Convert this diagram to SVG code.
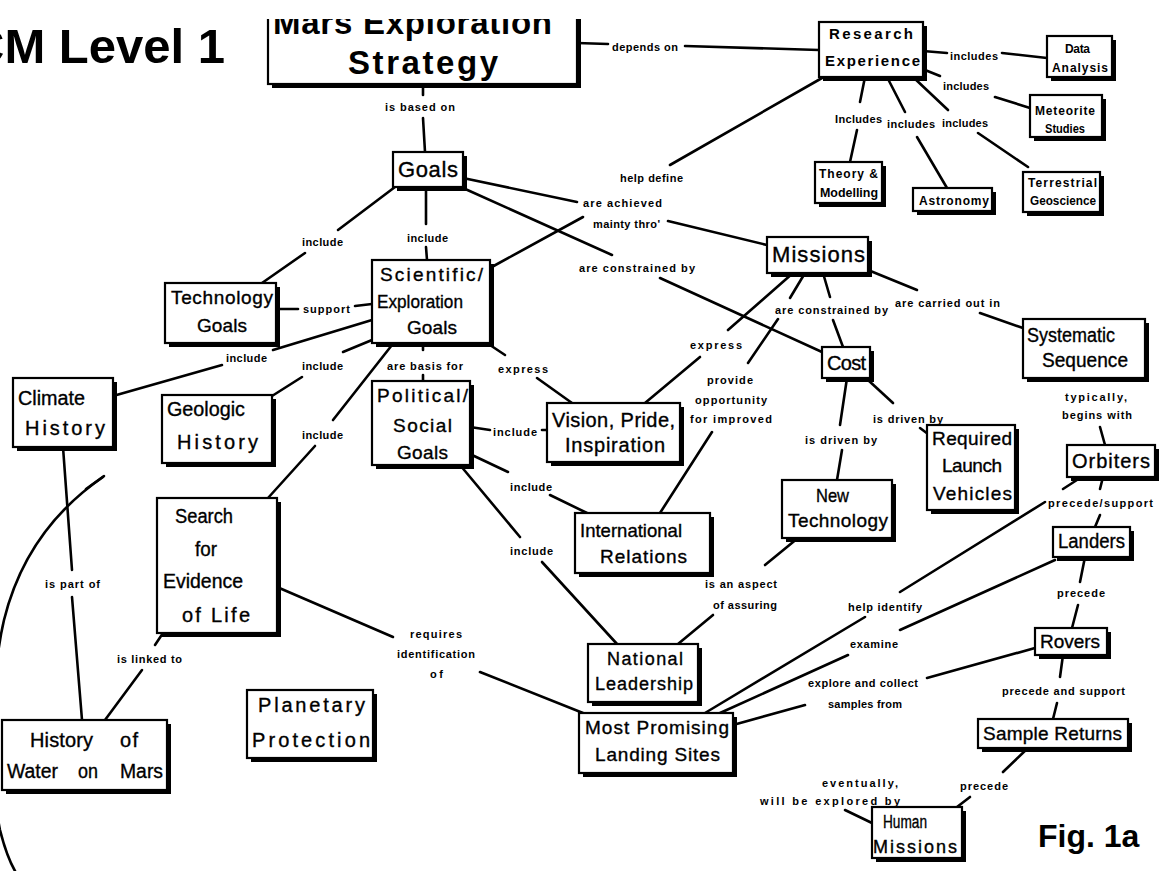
<svg xmlns="http://www.w3.org/2000/svg" width="1159" height="871" viewBox="0 0 1159 871">
<style>
.bx{fill:#fff;stroke:#000;stroke-width:2.2}
.sh{fill:#000}
.t{font-family:"Liberation Sans",Arial,sans-serif;fill:#000;stroke:#000;stroke-width:0.35}
.tb{font-family:"Liberation Sans",Arial,sans-serif;font-weight:bold;fill:#000}
.lb{font-family:"Liberation Sans",Arial,sans-serif;font-weight:bold;font-size:11px;fill:#000}
.c line,.c path{stroke:#000;stroke-width:2.6;fill:none;stroke-linecap:round}
</style>
<defs>
<clipPath id="cliptop"><rect x="0" y="19" width="1159" height="900"/></clipPath>
</defs>
<rect x="0" y="0" width="1159" height="871" fill="#fff"/>
<text class="tb" x="-31" y="63" font-size="49">CM Level 1</text>
<text class="tb" x="1038" y="847" font-size="32">Fig. 1a</text>

<g class="c" id="connectors">
<line x1="577" y1="43" x2="608" y2="44"/><line x1="685" y1="46" x2="819" y2="50"/>
<line x1="423" y1="84" x2="423" y2="95"/><line x1="423" y1="118" x2="425" y2="152"/>
<line x1="923" y1="51" x2="947" y2="53"/><line x1="1002" y1="53" x2="1047" y2="58"/>
<line x1="925" y1="70" x2="940" y2="76"/><line x1="995" y1="97" x2="1030" y2="108"/>
<line x1="865" y1="77" x2="860" y2="102"/><line x1="857" y1="130" x2="850" y2="162"/>
<line x1="887" y1="77" x2="905" y2="112"/><line x1="917" y1="137" x2="947" y2="188"/>
<line x1="913" y1="77" x2="948" y2="110"/><line x1="978" y1="133" x2="1028" y2="167"/>
<line x1="822" y1="78" x2="670" y2="165"/><line x1="583" y1="217" x2="490" y2="268"/>
<line x1="395" y1="187" x2="338" y2="230"/><line x1="305" y1="253" x2="262" y2="283"/>
<line x1="426" y1="187" x2="426" y2="224"/><line x1="426" y1="247" x2="427" y2="260"/>
<line x1="463" y1="178" x2="577" y2="202"/><line x1="668" y1="221" x2="767" y2="245"/>
<line x1="463" y1="188" x2="612" y2="255"/><line x1="660" y1="278" x2="822" y2="352"/>
<line x1="793" y1="273" x2="728" y2="330"/><line x1="700" y1="357" x2="645" y2="403"/>
<line x1="805" y1="273" x2="790" y2="298"/><line x1="778" y1="319" x2="748" y2="363"/><line x1="712" y1="432" x2="660" y2="513"/>
<line x1="823" y1="273" x2="830" y2="297"/><line x1="833" y1="320" x2="843" y2="347"/>
<line x1="868" y1="270" x2="917" y2="290"/><line x1="980" y1="313" x2="1023" y2="328"/>
<line x1="1100" y1="427" x2="1105" y2="445"/>
<line x1="1103" y1="477" x2="1100" y2="489"/><line x1="1100" y1="515" x2="1095" y2="527"/>
<line x1="1080" y1="478" x2="1063" y2="489"/><line x1="1045" y1="502" x2="900" y2="592"/><line x1="865" y1="617" x2="705" y2="713"/>
<line x1="1055" y1="560" x2="900" y2="630"/><line x1="848" y1="655" x2="720" y2="713"/>
<line x1="1085" y1="557" x2="1080" y2="582"/><line x1="1078" y1="605" x2="1072" y2="628"/>
<line x1="1035" y1="648" x2="927" y2="678"/><line x1="805" y1="705" x2="733" y2="725"/>
<line x1="1063" y1="655" x2="1060" y2="677"/><line x1="1057" y1="703" x2="1053" y2="719"/>
<line x1="1028" y1="748" x2="1003" y2="772"/><line x1="970" y1="797" x2="957" y2="807"/>
<line x1="845" y1="810" x2="872" y2="823"/>
<line x1="847" y1="378" x2="840" y2="425"/><line x1="842" y1="450" x2="837" y2="480"/>
<line x1="868" y1="380" x2="893" y2="403"/><line x1="920" y1="428" x2="928" y2="434"/>
<line x1="798" y1="538" x2="765" y2="565"/><line x1="713" y1="615" x2="678" y2="644"/>
<line x1="460" y1="465" x2="520" y2="537"/><line x1="542" y1="562" x2="617" y2="644"/>
<line x1="470" y1="427" x2="490" y2="430"/><line x1="542" y1="430" x2="547" y2="430"/>
<line x1="472" y1="455" x2="508" y2="472"/><line x1="550" y1="495" x2="587" y2="513"/>
<line x1="423" y1="345" x2="423" y2="350"/><line x1="423" y1="375" x2="423" y2="381"/>
<line x1="490" y1="345" x2="505" y2="355"/><line x1="537" y1="378" x2="572" y2="403"/>
<line x1="276" y1="309" x2="298" y2="309"/><line x1="355" y1="306" x2="372" y2="304"/>
<line x1="372" y1="320" x2="273" y2="350"/><line x1="222" y1="365" x2="113" y2="396"/>
<line x1="372" y1="340" x2="343" y2="352"/><line x1="302" y1="377" x2="272" y2="396"/>
<line x1="392" y1="345" x2="333" y2="420"/><line x1="315" y1="446" x2="268" y2="498"/>
<line x1="63" y1="447" x2="72" y2="570"/><line x1="72" y1="597" x2="82" y2="720"/>
<line x1="163" y1="633" x2="155" y2="645"/><line x1="142" y1="670" x2="105" y2="720"/>
<line x1="277" y1="587" x2="393" y2="637"/><line x1="480" y1="672" x2="583" y2="713"/>
<path d="M103,477 C55,510 20,555 4,620 C-10,680 -10,780 0,830 C5,850 10,862 15,871" stroke-width="3"/>
<path d="M104,476 L86,489" stroke-width="5.5"/>
</g>

<g id="labels">
<text class="lb" x="612" y="51" textLength="66" lengthAdjust="spacing">depends on</text>
<text class="lb" x="385" y="111" textLength="70" lengthAdjust="spacing">is based on</text>
<text class="lb" x="950" y="60" textLength="48" lengthAdjust="spacing">includes</text>
<text class="lb" x="943" y="90" textLength="46" lengthAdjust="spacing">includes</text>
<text class="lb" x="835" y="123" textLength="47" lengthAdjust="spacing">Includes</text>
<text class="lb" x="887" y="128" textLength="48" lengthAdjust="spacing">includes</text>
<text class="lb" x="942" y="127" textLength="46" lengthAdjust="spacing">includes</text>
<text class="lb" x="620" y="182" textLength="63" lengthAdjust="spacing">help define</text>
<text class="lb" x="302" y="246" textLength="41" lengthAdjust="spacing">include</text>
<text class="lb" x="407" y="242" textLength="41" lengthAdjust="spacing">include</text>
<text class="lb" x="583" y="207" textLength="79" lengthAdjust="spacing">are achieved</text>
<text class="lb" x="593" y="228" textLength="67" lengthAdjust="spacing">mainty thro'</text>
<text class="lb" x="579" y="272" textLength="116" lengthAdjust="spacing">are constrained by</text>
<text class="lb" x="690" y="349" textLength="52" lengthAdjust="spacing">express</text>
<text class="lb" x="707" y="384" textLength="46" lengthAdjust="spacing">provide</text>
<text class="lb" x="695" y="404" textLength="72" lengthAdjust="spacing">opportunity</text>
<text class="lb" x="690" y="423" textLength="82" lengthAdjust="spacing">for improved</text>
<text class="lb" x="775" y="314" textLength="113" lengthAdjust="spacing">are constrained by</text>
<text class="lb" x="895" y="307" textLength="105" lengthAdjust="spacing">are carried out in</text>
<text class="lb" x="1065" y="401" textLength="62" lengthAdjust="spacing">typically,</text>
<text class="lb" x="1062" y="419" textLength="70" lengthAdjust="spacing">begins with</text>
<text class="lb" x="1048" y="507" textLength="105" lengthAdjust="spacing">precede/support</text>
<text class="lb" x="848" y="611" textLength="74" lengthAdjust="spacing">help identify</text>
<text class="lb" x="850" y="648" textLength="48" lengthAdjust="spacing">examine</text>
<text class="lb" x="1057" y="597" textLength="48" lengthAdjust="spacing">precede</text>
<text class="lb" x="808" y="687" textLength="110" lengthAdjust="spacing">explore and collect</text>
<text class="lb" x="828" y="708" textLength="74" lengthAdjust="spacing">samples from</text>
<text class="lb" x="1002" y="695" textLength="123" lengthAdjust="spacing">precede and support</text>
<text class="lb" x="960" y="790" textLength="48" lengthAdjust="spacing">precede</text>
<text class="lb" x="822" y="787" textLength="76" lengthAdjust="spacing">eventually,</text>
<text class="lb" x="760" y="805" textLength="140" lengthAdjust="spacing">will be explored by</text>
<text class="lb" x="805" y="444" textLength="72" lengthAdjust="spacing">is driven by</text>
<text class="lb" x="873" y="423" textLength="70" lengthAdjust="spacing">is driven by</text>
<text class="lb" x="705" y="588" textLength="72" lengthAdjust="spacing">is an aspect</text>
<text class="lb" x="713" y="609" textLength="64" lengthAdjust="spacing">of assuring</text>
<text class="lb" x="510" y="555" textLength="43" lengthAdjust="spacing">include</text>
<text class="lb" x="493" y="436" textLength="44" lengthAdjust="spacing">include</text>
<text class="lb" x="510" y="491" textLength="42" lengthAdjust="spacing">include</text>
<text class="lb" x="387" y="370" textLength="76" lengthAdjust="spacing">are basis for</text>
<text class="lb" x="498" y="373" textLength="50" lengthAdjust="spacing">express</text>
<text class="lb" x="303" y="313" textLength="47" lengthAdjust="spacing">support</text>
<text class="lb" x="226" y="362" textLength="41" lengthAdjust="spacing">include</text>
<text class="lb" x="302" y="370" textLength="41" lengthAdjust="spacing">include</text>
<text class="lb" x="302" y="439" textLength="41" lengthAdjust="spacing">include</text>
<text class="lb" x="45" y="588" textLength="55" lengthAdjust="spacing">is part of</text>
<text class="lb" x="117" y="663" textLength="65" lengthAdjust="spacing">is linked to</text>
<text class="lb" x="410" y="638" textLength="52" lengthAdjust="spacing">requires</text>
<text class="lb" x="397" y="658" textLength="78" lengthAdjust="spacing">identification</text>
<text class="lb" x="430" y="678" textLength="13" lengthAdjust="spacing">of</text>
</g>

<g id="n-mars" clip-path="url(#cliptop)">
<rect class="sh" x="272" y="12" width="309" height="76"/><rect class="bx" x="268" y="8" width="309" height="76"/>
<text class="tb" x="273" y="34" font-size="33" textLength="279" lengthAdjust="spacing">Mars Exploration</text>
<text class="tb" x="348" y="74" font-size="33" textLength="150" lengthAdjust="spacing">Strategy</text>
</g>
<g id="n-research">
<rect class="sh" x="823" y="26" width="104" height="55"/><rect class="bx" x="819" y="22" width="104" height="55"/>
<text class="tb" x="829" y="39" font-size="15" textLength="84" lengthAdjust="spacing">Research</text>
<text class="tb" x="825" y="66" font-size="15" textLength="95" lengthAdjust="spacing">Experience</text>
</g>
<g id="n-data">
<rect class="sh" x="1051" y="40" width="65" height="41"/><rect class="bx" x="1047" y="36" width="65" height="41"/>
<text class="tb" x="1065" y="53" font-size="12" textLength="25" lengthAdjust="spacing">Data</text>
<text class="tb" x="1052" y="72" font-size="12" textLength="56" lengthAdjust="spacing">Analysis</text>
</g>
<g id="n-meteorite">
<rect class="sh" x="1034" y="99" width="72" height="42"/><rect class="bx" x="1030" y="95" width="72" height="42"/>
<text class="tb" x="1035" y="115" font-size="12" textLength="60" lengthAdjust="spacing">Meteorite</text>
<text class="tb" x="1045" y="133" font-size="12" textLength="40" lengthAdjust="spacingAndGlyphs">Studies</text>
</g>
<g id="n-theory">
<rect class="sh" x="819" y="166" width="67" height="41"/><rect class="bx" x="815" y="162" width="67" height="41"/>
<text class="tb" x="819" y="178" font-size="12" textLength="59" lengthAdjust="spacing">Theory  &amp;</text>
<text class="tb" x="820" y="197" font-size="12" textLength="58" lengthAdjust="spacingAndGlyphs">Modelling</text>
</g>
<g id="n-astronomy">
<rect class="sh" x="917" y="192" width="79" height="23"/><rect class="bx" x="913" y="188" width="79" height="23"/>
<text class="tb" x="919" y="205" font-size="12" textLength="70" lengthAdjust="spacing">Astronomy</text>
</g>
<g id="n-terrestrial">
<rect class="sh" x="1027" y="176" width="77" height="40"/><rect class="bx" x="1023" y="172" width="77" height="40"/>
<text class="tb" x="1028" y="187" font-size="12" textLength="69" lengthAdjust="spacing">Terrestrial</text>
<text class="tb" x="1030" y="205" font-size="12" textLength="66" lengthAdjust="spacingAndGlyphs">Geoscience</text>
</g>
<g id="n-goals">
<rect class="sh" x="397" y="156" width="70" height="35"/><rect class="bx" x="393" y="152" width="70" height="35"/>
<text class="t" x="398" y="177" font-size="22" textLength="60" lengthAdjust="spacing">Goals</text>
</g>
<g id="n-missions">
<rect class="sh" x="771" y="241" width="101" height="36"/><rect class="bx" x="767" y="237" width="101" height="36"/>
<text class="t" x="772" y="262" font-size="22" textLength="93" lengthAdjust="spacing">Missions</text>
</g>
<g id="n-techgoals">
<rect class="sh" x="169" y="287" width="111" height="60"/><rect class="bx" x="165" y="283" width="111" height="60"/>
<text class="t" x="171" y="304" font-size="19" textLength="102" lengthAdjust="spacing">Technology</text>
<text class="t" x="197" y="332" font-size="19" textLength="50" lengthAdjust="spacing">Goals</text>
</g>
<g id="n-scigoals">
<rect class="sh" x="376" y="264" width="118" height="83"/><rect class="bx" x="372" y="260" width="118" height="83"/>
<text class="t" x="380" y="281" font-size="19" textLength="103" lengthAdjust="spacing">Scientific/</text>
<text class="t" x="377" y="308" font-size="19" textLength="86" lengthAdjust="spacingAndGlyphs">Exploration</text>
<text class="t" x="407" y="334" font-size="19" textLength="50" lengthAdjust="spacing">Goals</text>
</g>
<g id="n-systematic">
<rect class="sh" x="1027" y="323" width="122" height="59"/><rect class="bx" x="1023" y="319" width="122" height="59"/>
<text class="t" x="1027" y="342" font-size="20" textLength="88" lengthAdjust="spacingAndGlyphs">Systematic</text>
<text class="t" x="1042" y="367" font-size="20" textLength="86" lengthAdjust="spacingAndGlyphs">Sequence</text>
</g>
<g id="n-cost">
<rect class="sh" x="826" y="351" width="48" height="31"/><rect class="bx" x="822" y="347" width="48" height="31"/>
<text class="t" x="827" y="370" font-size="20" textLength="39" lengthAdjust="spacing">Cost</text>
</g>
<g id="n-climate">
<rect class="sh" x="17" y="382" width="100" height="69"/><rect class="bx" x="13" y="378" width="100" height="69"/>
<text class="t" x="18" y="405" font-size="20" textLength="67" lengthAdjust="spacingAndGlyphs">Climate</text>
<text class="t" x="25" y="435" font-size="20" textLength="80" lengthAdjust="spacing">History</text>
</g>
<g id="n-geologic">
<rect class="sh" x="166" y="399" width="110" height="68"/><rect class="bx" x="162" y="395" width="110" height="68"/>
<text class="t" x="167" y="416" font-size="20" textLength="78" lengthAdjust="spacingAndGlyphs">Geologic</text>
<text class="t" x="177" y="449" font-size="20" textLength="81" lengthAdjust="spacing">History</text>
</g>
<g id="n-political">
<rect class="sh" x="376" y="385" width="98" height="84"/><rect class="bx" x="372" y="381" width="98" height="84"/>
<text class="t" x="377" y="402" font-size="19" textLength="91" lengthAdjust="spacing">Political/</text>
<text class="t" x="393" y="432" font-size="19" textLength="59" lengthAdjust="spacing">Social</text>
<text class="t" x="397" y="459" font-size="19" textLength="51" lengthAdjust="spacing">Goals</text>
</g>
<g id="n-vision">
<rect class="sh" x="551" y="407" width="133" height="59"/><rect class="bx" x="547" y="403" width="133" height="59"/>
<text class="t" x="552" y="427" font-size="20" textLength="123" lengthAdjust="spacing">Vision,  Pride,</text>
<text class="t" x="565" y="452" font-size="20" textLength="100" lengthAdjust="spacing">Inspiration</text>
</g>
<g id="n-launch">
<rect class="sh" x="931" y="429" width="88" height="85"/><rect class="bx" x="927" y="425" width="88" height="85"/>
<text class="t" x="932" y="445" font-size="19" textLength="80" lengthAdjust="spacing">Required</text>
<text class="t" x="942" y="472" font-size="19" textLength="60" lengthAdjust="spacing">Launch</text>
<text class="t" x="933" y="500" font-size="19" textLength="79" lengthAdjust="spacing">Vehicles</text>
</g>
<g id="n-orbiters">
<rect class="sh" x="1071" y="449" width="88" height="32"/><rect class="bx" x="1067" y="445" width="88" height="32"/>
<text class="t" x="1072" y="468" font-size="20" textLength="78" lengthAdjust="spacing">Orbiters</text>
</g>
<g id="n-newtech">
<rect class="sh" x="786" y="484" width="110" height="58"/><rect class="bx" x="782" y="480" width="110" height="58"/>
<text class="t" x="816" y="502" font-size="19" textLength="33" lengthAdjust="spacingAndGlyphs">New</text>
<text class="t" x="788" y="527" font-size="19" textLength="100" lengthAdjust="spacing">Technology</text>
</g>
<g id="n-intl">
<rect class="sh" x="579" y="517" width="135" height="60"/><rect class="bx" x="575" y="513" width="135" height="60"/>
<text class="t" x="580" y="537" font-size="19" textLength="102" lengthAdjust="spacingAndGlyphs">International</text>
<text class="t" x="600" y="563" font-size="19" textLength="87" lengthAdjust="spacing">Relations</text>
</g>
<g id="n-landers">
<rect class="sh" x="1057" y="531" width="77" height="30"/><rect class="bx" x="1053" y="527" width="77" height="30"/>
<text class="t" x="1058" y="548" font-size="20" textLength="67" lengthAdjust="spacingAndGlyphs">Landers</text>
</g>
<g id="n-search">
<rect class="sh" x="161" y="502" width="120" height="135"/><rect class="bx" x="157" y="498" width="120" height="135"/>
<text class="t" x="175" y="523" font-size="20" textLength="58" lengthAdjust="spacingAndGlyphs">Search</text>
<text class="t" x="195" y="556" font-size="20" textLength="22" lengthAdjust="spacingAndGlyphs">for</text>
<text class="t" x="163" y="588" font-size="20" textLength="80" lengthAdjust="spacingAndGlyphs">Evidence</text>
<text class="t" x="182" y="622" font-size="20" textLength="68" lengthAdjust="spacing">of   Life</text>
</g>
<g id="n-national">
<rect class="sh" x="592" y="648" width="110" height="58"/><rect class="bx" x="588" y="644" width="110" height="58"/>
<text class="t" x="607" y="665" font-size="18" textLength="76" lengthAdjust="spacing">National</text>
<text class="t" x="595" y="690" font-size="18" textLength="98" lengthAdjust="spacing">Leadership</text>
</g>
<g id="n-rovers">
<rect class="sh" x="1039" y="632" width="72" height="27"/><rect class="bx" x="1035" y="628" width="72" height="27"/>
<text class="t" x="1040" y="648" font-size="19" textLength="60" lengthAdjust="spacing">Rovers</text>
</g>
<g id="n-sites">
<rect class="sh" x="583" y="717" width="154" height="60"/><rect class="bx" x="579" y="713" width="154" height="60"/>
<text class="t" x="585" y="734" font-size="19" textLength="144" lengthAdjust="spacing">Most   Promising</text>
<text class="t" x="595" y="761" font-size="19" textLength="125" lengthAdjust="spacing">Landing   Sites</text>
</g>
<g id="n-samples">
<rect class="sh" x="982" y="723" width="150" height="29"/><rect class="bx" x="978" y="719" width="150" height="29"/>
<text class="t" x="983" y="740" font-size="19" textLength="139" lengthAdjust="spacing">Sample    Returns</text>
</g>
<g id="n-planetary">
<rect class="sh" x="251" y="694" width="126" height="68"/><rect class="bx" x="247" y="690" width="126" height="68"/>
<text class="t" x="258" y="712" font-size="20" textLength="107" lengthAdjust="spacing">Planetary</text>
<text class="t" x="252" y="747" font-size="20" textLength="118" lengthAdjust="spacing">Protection</text>
</g>
<g id="n-water">
<rect class="sh" x="6" y="724" width="165" height="70"/><rect class="bx" x="2" y="720" width="165" height="70"/>
<text class="t" x="30" y="747" font-size="20" textLength="63" lengthAdjust="spacing">History</text>
<text class="t" x="120" y="747" font-size="20" textLength="18" lengthAdjust="spacing">of</text>
<text class="t" x="7" y="778" font-size="20" textLength="51" lengthAdjust="spacingAndGlyphs">Water</text>
<text class="t" x="78" y="778" font-size="20" textLength="20" lengthAdjust="spacingAndGlyphs">on</text>
<text class="t" x="120" y="778" font-size="20" textLength="43" lengthAdjust="spacingAndGlyphs">Mars</text>
</g>
<g id="n-human">
<rect class="sh" x="876" y="811" width="90" height="51"/><rect class="bx" x="872" y="807" width="90" height="51"/>
<text class="t" x="883" y="828" font-size="18" textLength="44" lengthAdjust="spacingAndGlyphs">Human</text>
<text class="t" x="873" y="853" font-size="18" textLength="84" lengthAdjust="spacing">Missions</text>
</g>
</svg>
